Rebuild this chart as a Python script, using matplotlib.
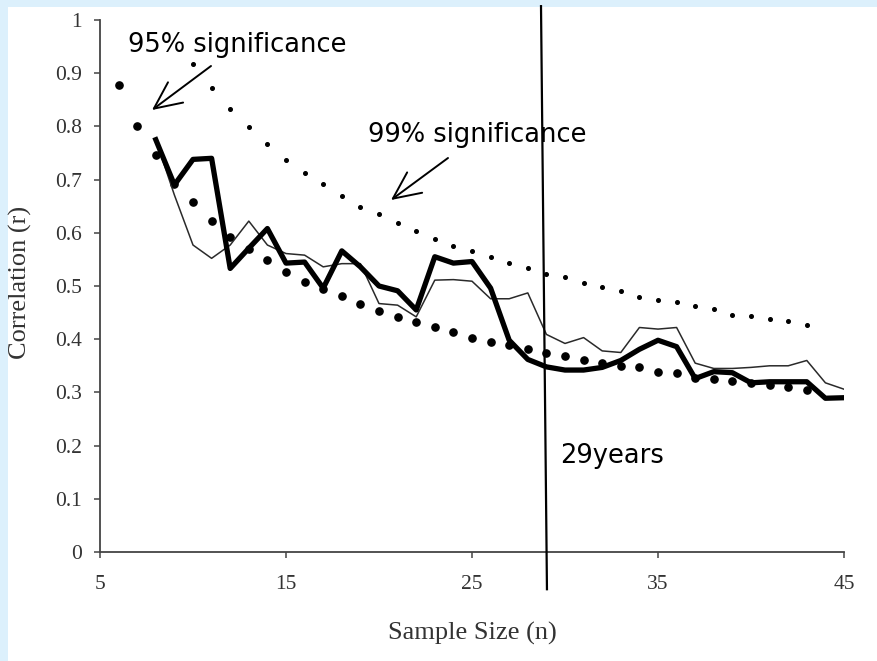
import matplotlib
matplotlib.use("Agg")
import matplotlib.pyplot as plt
from matplotlib.patches import Rectangle

# ---------------- data ----------------
n_sig95 = [6, 7, 8, 9, 10, 11, 12, 13, 14, 15, 16, 17, 18, 19, 20, 21, 22, 23, 24,
           25, 26, 27, 28, 29, 30, 31, 32, 33, 34, 35, 36, 37, 38, 39, 40, 41, 42, 43]
r_sig95 = [0.878, 0.800, 0.746, 0.692, 0.657, 0.622, 0.593, 0.570, 0.548, 0.526,
           0.508, 0.495, 0.482, 0.466, 0.453, 0.442, 0.432, 0.422, 0.413, 0.403,
           0.395, 0.389, 0.382, 0.375, 0.369, 0.360, 0.356, 0.350, 0.347, 0.339,
           0.336, 0.328, 0.325, 0.321, 0.317, 0.313, 0.310, 0.305]

n_sig99 = [10, 11, 12, 13, 14, 15, 16, 17, 18, 19, 20, 21, 22, 23, 24, 25, 26,
           27, 28, 29, 30, 31, 32, 33, 34, 35, 36, 37, 38, 39, 40, 41, 42, 43]
r_sig99 = [0.917, 0.872, 0.833, 0.798, 0.766, 0.737, 0.713, 0.692, 0.670, 0.649,
           0.635, 0.618, 0.604, 0.589, 0.576, 0.565, 0.554, 0.544, 0.533, 0.523,
           0.516, 0.505, 0.498, 0.491, 0.480, 0.474, 0.470, 0.462, 0.456, 0.445,
           0.444, 0.438, 0.435, 0.427]

n_series = [8, 9, 10, 11, 12, 13, 14, 15, 16, 17, 18, 19, 20, 21, 22, 23, 24, 25, 26,
            27, 28, 29, 30, 31, 32, 33, 34, 35, 36, 37, 38, 39, 40, 41, 42, 43, 44, 45]
r_thick = [0.775, 0.690, 0.738, 0.740, 0.533, 0.571, 0.608, 0.543, 0.545, 0.496,
           0.566, 0.536, 0.500, 0.491, 0.455, 0.555, 0.543, 0.546, 0.496, 0.398,
           0.362, 0.348, 0.342, 0.342, 0.347, 0.360, 0.381, 0.398, 0.386, 0.326,
           0.339, 0.337, 0.318, 0.320, 0.320, 0.320, 0.289, 0.290]
r_thin = [0.775, 0.671, 0.577, 0.552, 0.577, 0.622, 0.577, 0.561, 0.558, 0.536,
          0.542, 0.542, 0.467, 0.464, 0.442, 0.511, 0.512, 0.509, 0.476, 0.476,
          0.487, 0.409, 0.392, 0.403, 0.378, 0.375, 0.422, 0.419, 0.422, 0.355,
          0.345, 0.345, 0.347, 0.350, 0.350, 0.360, 0.318, 0.306]

x_ticks = [5, 15, 25, 35, 45]
y_ticks = [0, 0.1, 0.2, 0.3, 0.4, 0.5, 0.6, 0.7, 0.8, 0.9, 1]
y_ticklabels = ["0", "0.1", "0.2", "0.3", "0.4", "0.5", "0.6", "0.7", "0.8", "0.9", "1"]
marker_year = 29

# ---------------- figure ----------------
W, H = 877, 661
fig = plt.figure(figsize=(W / 100, H / 100), dpi=100, facecolor="#dcf0fc")
fig.patches.append(Rectangle((8 / W, 0), 1 - 8 / W, 1 - 7 / H, transform=fig.transFigure,
                             facecolor="white", edgecolor="none", zorder=-10))

ax = fig.add_axes([100 / W, (H - 552) / H, 744 / W, 532 / H])
ax.patch.set_alpha(0)

serif = "Liberation Serif"
sans = "DejaVu Sans"

ax.plot(n_sig99, r_sig99, linestyle="none", marker="o", markersize=2.6,
        color="black", zorder=2)
ax.plot(n_sig95, r_sig95, linestyle="none", marker="o", markersize=5.2,
        color="black", zorder=2)
ax.plot(n_series, r_thin, color="#2a2a2a", linewidth=1.1, zorder=3)
ax.plot(n_series, r_thick, color="black", linewidth=3.8, solid_joinstyle="round",
        zorder=4)

ax.set_xlim(5, 45)
ax.set_ylim(0, 1)
ax.set_xticks(x_ticks)
ax.set_xticklabels([str(v) for v in x_ticks])
ax.set_yticks(y_ticks)
ax.set_yticklabels(y_ticklabels)

for s in ("top", "right"):
    ax.spines[s].set_visible(False)
for s in ("left", "bottom"):
    ax.spines[s].set_color("#444444")
    ax.spines[s].set_linewidth(1.3)

ax.tick_params(axis="x", direction="out", length=4.3, width=1.1, color="#444444",
               pad=12, labelsize=15.5, labelcolor="#333333")
ax.tick_params(axis="y", direction="out", length=4.0, width=1.1, color="#444444",
               pad=9, labelsize=15.5, labelcolor="#333333")
for lab in ax.get_xticklabels() + ax.get_yticklabels():
    lab.set_fontfamily(serif)

ax.set_xlabel("Sample Size (n)", fontsize=19, fontfamily=serif, color="#333333")
ax.set_ylabel("Correlation (r)", fontsize=19, fontfamily=serif, color="#333333")
ax.xaxis.set_label_coords(0.5, -0.131)
ax.yaxis.set_label_coords(-0.092, 0.506)

# vertical marker line (slightly slanted as in the original)
ax.plot([marker_year - 0.29, marker_year + 0.03], [1.026, -0.07], color="black",
        linewidth=1.6, clip_on=False, zorder=5)


def fp(x, y):
    return (x, H - y)


fig.text(128 / W, 1 - 52 / H, "95% significance", fontsize=18.5, fontfamily=sans,
         va="baseline", ha="left", color="black")
fig.text(368 / W, 1 - 142 / H, "99% significance", fontsize=18.5, fontfamily=sans,
         va="baseline", ha="left", color="black")
fig.text(560 / W, 1 - 463 / H, "29years", fontsize=18.5, fontfamily=sans,
         va="baseline", ha="left", color="black")

arrow_kw = dict(arrowstyle="->,head_length=0.75,head_width=0.35", color="black",
                lw=1.4, mutation_scale=26, shrinkA=0, shrinkB=0)
ax.annotate("", xy=fp(152, 110), xytext=fp(211, 66), xycoords="figure pixels",
            textcoords="figure pixels", arrowprops=arrow_kw, annotation_clip=False)
ax.annotate("", xy=fp(391, 200), xytext=fp(448, 158), xycoords="figure pixels",
            textcoords="figure pixels", arrowprops=arrow_kw, annotation_clip=False)

fig.savefig("out.png", dpi=100, facecolor=fig.get_facecolor())
